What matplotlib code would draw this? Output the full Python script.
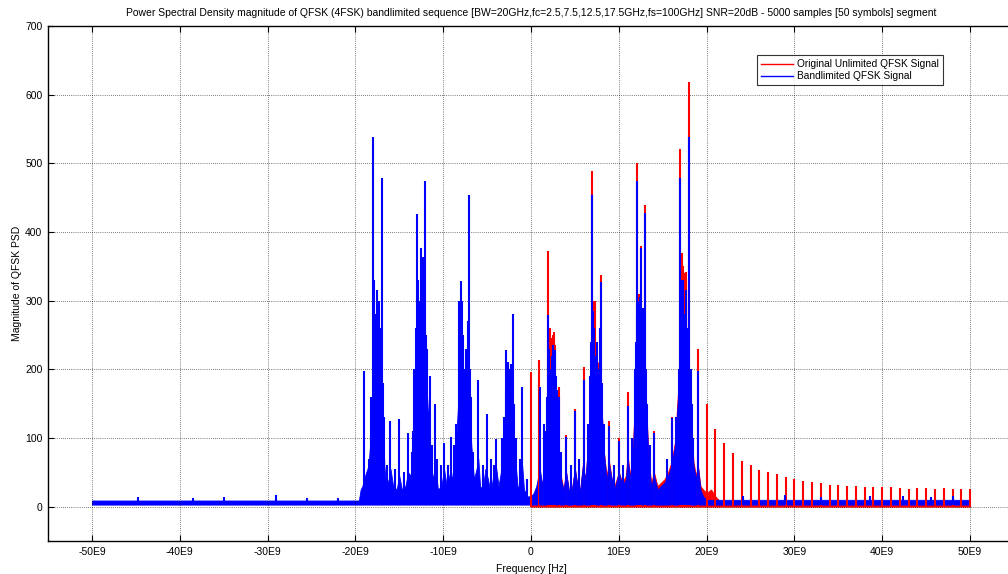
import numpy as np
import matplotlib
matplotlib.use('Agg')
from matplotlib import pyplot as plt
from matplotlib.ticker import FuncFormatter

plt.rcParams['font.family'] = ['Liberation Sans', 'DejaVu Sans']

# frequencies in GHz, magnitudes

# blue (bandlimited): envelope of the dense part of the spectrum
blue_env_f = [-50, -19.6, -19.4, -19.2, -18.9, -18.5, -18.3, -18.1, -17.9, -17.7, -17.4, -17.1, -16.9,
              -16.7, -16.5, -16.2, -16.0, -15.7, -15.3, -15.0, -14.7, -14.3, -14.0, -13.7, -13.4, -13.2,
              -12.9, -12.6, -12.3, -12.0, -11.7, -11.4, -11.2, -10.9, -10.6, -10.2, -9.9, -9.6, -9.2,
              -9.0, -8.6, -8.3, -8.0, -7.6, -7.3, -7.0, -6.8, -6.5, -6.2, -6.0, -5.8, -5.5, -5.2, -4.9,
              -4.6, -4.3, -4.0, -3.7, -3.3, -3.0, -2.7, -2.4, -2.1, -1.8, -1.5, -1.2, -1.0, -0.8, -0.4,
              0.0, 0.3, 0.6, 1.0, 1.3, 1.6, 1.9, 2.2, 2.5, 2.8, 3.1, 3.4, 3.7, 4.0, 4.3, 4.6, 5.0, 5.3,
              5.6, 5.9, 6.2, 6.5, 6.8, 7.1, 7.4, 7.7, 8.0, 8.3, 8.6, 8.9, 9.2, 9.5, 10.0, 10.4, 10.8,
              11.0, 11.3, 11.6, 11.9, 12.2, 12.5, 12.8, 13.1, 13.4, 13.7, 14.0, 14.4, 14.8, 15.2, 15.6,
              16.0, 16.4, 16.7, 17.0, 17.3, 17.6, 17.9, 18.2, 18.5, 18.8, 19.0, 19.3, 19.6, 20.0, 50]
blue_env_m = [9, 9, 25, 30, 45, 60, 95, 150, 200, 230, 240, 200, 150,
              60, 30, 40, 55, 30, 25, 45, 25, 30, 50, 45, 90, 180,
              220, 240, 230, 200, 130, 60, 40, 60, 25, 30, 55, 30, 50,
              40, 80, 150, 200, 190, 180, 150, 90, 40, 55, 70, 30, 25, 55, 40,
              20, 45, 60, 30, 60, 110, 150, 150, 140, 70, 25, 40, 60, 25, 15,
              15, 20, 30, 55, 30, 80, 150, 180, 180, 160, 100, 40, 25, 50, 25, 20, 55, 30,
              25, 60, 40, 90, 170, 230, 200, 200, 150, 80, 40, 60, 40, 25, 50, 30, 40,
              70, 40, 80, 170, 220, 240, 210, 150, 60, 30, 45, 25, 30, 35, 45,
              60, 90, 150, 220, 250, 240, 200, 130, 60, 40, 60, 25, 15, 10, 10]

# blue single spikes
blue_spk_f = [-44.7, -38.5, -35.0, -29.0, -25.5, -22.0,
              -19.06, -18.0, -17.75, -17.54, -17.35, -17.2, -17.0, -16.75, -16.0, -15.0, -14.0, -13.6,
              -13.02, -12.8, -12.5, -12.3, -12.03, -11.8, -11.5, -10.97, -10.3, -9.95, -9.1, -8.5,
              -8.0, -7.85, -7.5, -7.2, -7.03, -6.8, -6.04, -5.05, -3.99, -3.1, -2.9, -2.7, -2.5,
              -2.28, -2.0, -1.7, -1.03,
              0.99, 1.7, 1.97, 2.3, 2.5, 2.7, 3.0, 3.2, 3.99, 5.0, 6.0, 6.95, 7.1, 7.3, 7.5, 7.9,
              7.97, 8.9, 10.0, 11.0, 12.03, 12.2, 12.4, 12.5, 12.98, 13.2, 14.0, 16.0, 16.97, 17.27,
              17.45, 17.6, 17.8, 18.0, 18.3, 19.02,
              24.1, 28.9, 33.0, 38.6, 42.4, 45.5, 48.0,
              # smaller lines inside the clusters
              -18.45, -18.2, -17.9, -17.85, -17.65, -17.45, -17.1, -16.9, -16.4, -15.5, -14.5, -13.4,
              -13.3, -13.15, -12.9, -12.7, -12.15, -11.9, -11.65, -11.3, -10.7, -9.5, -8.8, -8.2, -8.1,
              -7.7, -7.4, -6.9, -6.6, -5.5, -4.5, -4.2, -3.3, -2.8, -2.6, -2.4, -2.15, -1.9, -1.3, -0.5,
              1.5, 1.85, 2.1, 2.4, 2.6, 2.85, 3.4, 4.5, 5.5, 6.5, 6.7, 6.85, 7.2, 7.4, 7.7, 8.1, 8.3,
              9.5, 10.5, 11.5, 11.8, 11.9, 12.1, 12.3, 12.7, 12.85, 13.1, 13.5, 15.5, 16.5, 16.8, 17.1,
              17.15, 17.35, 17.5, 17.7, 17.9, 18.2, 18.5]
blue_spk_m = [14, 13, 14, 17, 12, 13,
              198, 538, 260, 315, 300, 230, 479, 130, 125, 128, 108, 80,
              426, 280, 376, 364, 474, 230, 190, 149, 60, 92, 101, 120,
              328, 300, 200, 271, 454, 160, 185, 135, 98, 130, 228, 190, 200,
              208, 280, 100, 175,
              174, 110, 279, 200, 235, 228, 170, 160, 101, 140, 185, 454, 285, 180, 240, 260,
              327, 118, 95, 147, 474, 300, 305, 376, 427, 150, 108, 129, 479, 300,
              250, 315, 260, 538, 150, 198,
              15, 17, 14, 16, 15, 14, 15,
              70, 160, 250, 330, 280, 240, 260, 180, 60, 55, 50, 110,
              200, 260, 330, 300, 290, 250, 140, 90, 70, 60, 90, 300, 260,
              250, 230, 200, 80, 60, 70, 60, 100, 170, 210, 200, 180, 150, 70, 40,
              120, 160, 230, 220, 200, 190, 80, 60, 70, 120, 190, 240, 260, 220, 200, 180, 120,
              60, 60, 100, 200, 240, 280, 270, 290, 260, 200, 90, 70, 130, 200, 280,
              330, 330, 280, 300, 260, 200, 100]

# red (original unlimited): envelope and spikes, positive frequencies only
red_env_f = [0.0, 0.3, 0.6, 1.0, 1.3, 1.6, 1.9, 2.2, 2.5, 2.8, 3.1, 3.4, 3.7, 4.0, 4.3, 4.6, 5.0, 5.3,
             5.6, 5.9, 6.2, 6.5, 6.8, 7.1, 7.4, 7.7, 8.0, 8.3, 8.6, 8.9, 9.2, 9.5, 10.0, 10.4, 10.8,
             11.0, 11.3, 11.6, 11.9, 12.2, 12.5, 12.8, 13.1, 13.4, 13.7, 14.0, 14.4, 14.8, 15.2, 15.6,
             16.0, 16.4, 16.7, 17.0, 17.3, 17.6, 17.9, 18.2, 18.5, 18.8, 19.0, 19.3, 19.6, 20.0, 20.5,
             21.0, 21.5, 22.0, 50]
red_env_m = [2, 15, 25, 50, 30, 80, 150, 190, 190, 170, 100, 45, 25, 50, 25, 20, 55, 30,
             25, 60, 40, 90, 180, 240, 210, 210, 155, 80, 45, 65, 40, 30, 50, 35, 45,
             75, 45, 85, 180, 230, 250, 220, 155, 65, 35, 50, 30, 35, 40, 50,
             65, 95, 160, 230, 260, 250, 210, 140, 65, 45, 60, 30, 25, 20, 25,
             15, 8, 3, 3]

red_spk_f = [0.03, 0.95, 1.97, 2.3, 2.5, 2.7, 3.2, 4.0, 5.0, 6.0, 6.95, 7.1, 7.97, 8.9, 10.0, 11.0,
             12.03, 12.5, 12.98, 14.0, 16.0, 16.97, 17.27, 17.6, 18.0, 19.02, 20.0, 21.0,
             22, 23, 24, 25, 26, 27, 28, 29, 30, 31, 32, 33, 34, 35, 36, 37, 38, 39, 40,
             41, 42, 43, 44, 45, 46, 47, 48, 49, 50,
             17.2, 17.4, 17.7, 2.15, 2.6, 7.3, 12.35]
red_spk_m = [196, 214, 373, 246, 250, 235, 175, 105, 142, 204, 489, 300, 337, 125, 100, 167,
             500, 380, 440, 110, 130, 521, 351, 342, 618, 230, 150, 113,
             92, 78, 67, 60, 54, 50, 47, 43, 40, 38, 36, 35, 32, 32, 30, 30, 29, 29, 29,
             28, 27, 26, 27, 27, 26, 27, 25, 26, 25,
             370, 340, 330, 260, 255, 300, 310]

red = '#ff0000'
blue = '#0000ff'

fig = plt.figure(figsize=(10.08, 5.74), dpi=100)
ax = fig.add_axes([48 / 1008, 33 / 574, 966 / 1008, 515 / 574])

# red first, blue drawn on top
ax.fill_between(np.array(red_env_f) * 1e9, 0, red_env_m, color=red, lw=0.6)
ax.vlines(np.array(red_spk_f) * 1e9, 0, red_spk_m, color=red, lw=1.5)
ax.fill_between(np.array(blue_env_f) * 1e9, 3, blue_env_m, color=blue, lw=0.6)
ax.vlines(np.array(blue_spk_f) * 1e9, 3, blue_spk_m, color=blue, lw=1.5)

# legend handles
ax.plot([], [], color=red, lw=1, label='Original Unlimited QFSK Signal')
ax.plot([], [], color=blue, lw=1, label='Bandlimited QFSK Signal')
leg = ax.legend(loc='upper right', bbox_to_anchor=(0.932, 0.953), fontsize=7.3, frameon=True,
                fancybox=False, edgecolor='black', handlelength=3.2, borderpad=0.4,
                labelspacing=0.2, handletextpad=0.4)
leg.get_frame().set_linewidth(0.8)

ax.set_xlim(-55e9, 55e9)
ax.set_ylim(-50, 700)
ax.set_xticks(np.arange(-50, 51, 10) * 1e9)
ax.set_yticks(np.arange(0, 701, 100))
ax.xaxis.set_major_formatter(FuncFormatter(lambda v, p: '0' if abs(v) < 1 else '%dE9' % round(v / 1e9)))
ax.tick_params(direction='in', length=4, width=0.8, labelsize=7.5, top=True, right=True, pad=4)
ax.grid(True, color='black', linestyle=(0, (1, 2)), linewidth=0.5)
for s in ax.spines.values():
    s.set_linewidth(1.0)

ax.set_title('Power Spectral Density magnitude of QFSK (4FSK) bandlimited sequence '
             '[BW=20GHz,fc=2.5,7.5,12.5,17.5GHz,fs=100GHz] SNR=20dB - 5000 samples [50 symbols] segment',
             fontsize=7.5, pad=7)
ax.set_xlabel('Frequency [Hz]', fontsize=7.5, labelpad=5)
ax.set_ylabel('Magnitude of QFSK PSD', fontsize=7.5, labelpad=2)

fig.savefig('out.png', dpi=100)
